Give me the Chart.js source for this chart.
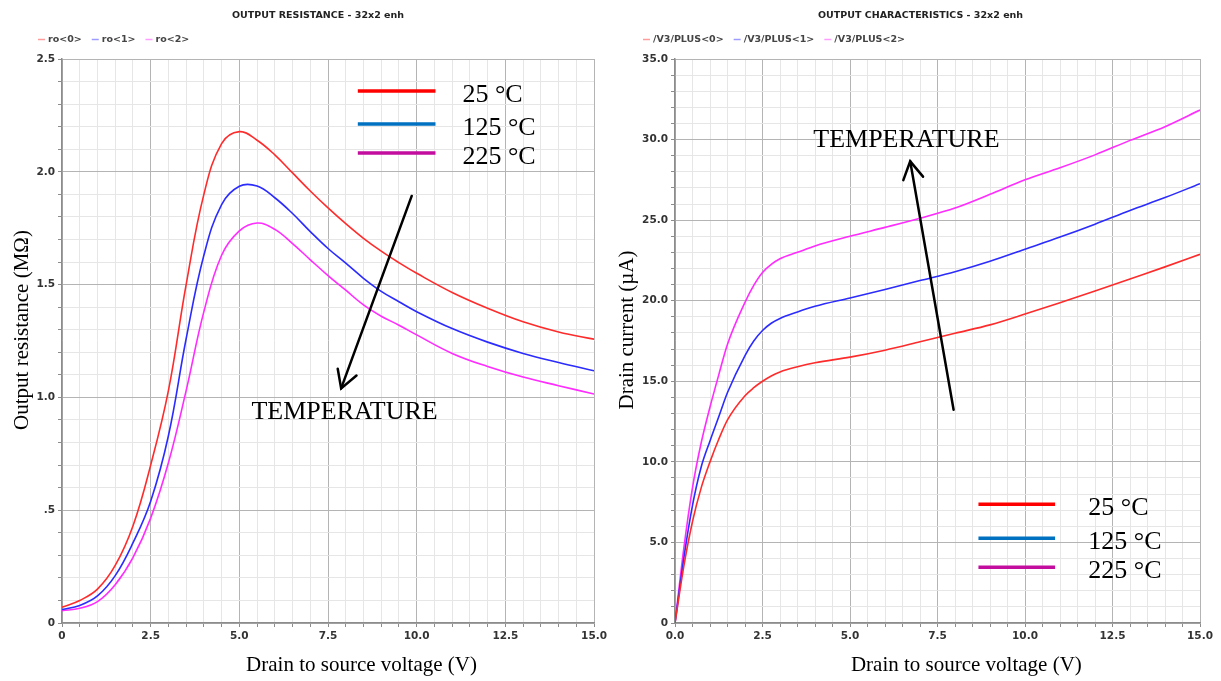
<!DOCTYPE html>
<html>
<head>
<meta charset="utf-8">
<script src="https://cdn.jsdelivr.net/npm/chart.js@4.4.1/dist/chart.umd.min.js"></script>
<style>
  html, body { margin: 0; padding: 0; background: #fff; }
  #page { position: relative; width: 1221px; height: 681px; overflow: hidden; background: #fff; }
  #res { position: absolute; left: 0; top: 0; }
  #out { position: absolute; left: 610px; top: 0; }
</style>
</head>
<body>
<div id="page">
  <canvas id="res" width="610" height="681"></canvas>
  <canvas id="out" width="611" height="681"></canvas>
</div>
<script>
// ---- Output resistance vs. V_DS (MΩ) ----
const vdsRes = [0, 0.5, 1, 1.5, 2, 2.5, 3, 3.5, 4, 4.5, 5, 5.5, 6, 6.5, 7, 7.5, 8, 8.5, 9, 9.5, 10, 11, 12, 13, 14, 15];
const ro25  = [0.07, 0.10, 0.15, 0.255, 0.43, 0.70, 1.03, 1.50, 1.90, 2.125, 2.178, 2.14, 2.075, 1.995, 1.915, 1.84, 1.77, 1.705, 1.648, 1.597, 1.55, 1.465, 1.395, 1.335, 1.29, 1.258];
const ro125 = [0.06, 0.078, 0.12, 0.21, 0.355, 0.54, 0.83, 1.26, 1.63, 1.855, 1.936, 1.937, 1.885, 1.815, 1.735, 1.66, 1.595, 1.528, 1.47, 1.424, 1.38, 1.305, 1.245, 1.195, 1.155, 1.118];
const ro225 = [0.055, 0.065, 0.095, 0.17, 0.29, 0.465, 0.71, 1.03, 1.38, 1.63, 1.738, 1.773, 1.745, 1.682, 1.61, 1.54, 1.475, 1.41, 1.36, 1.32, 1.277, 1.195, 1.137, 1.09, 1.052, 1.015];

// ---- Drain current vs. V_DS (µA) ----
const vdsOut = [0, 0.25, 0.5, 0.75, 1, 1.25, 1.5, 2, 2.25, 2.5, 2.75, 3, 3.5, 4, 5, 6, 7, 8, 9, 10, 11, 12, 13, 14, 15];
const id25  = [0, 3.5, 6.3, 8.4, 10.0, 11.4, 12.6, 14.1, 14.6, 15.0, 15.33, 15.58, 15.9, 16.15, 16.5, 16.93, 17.45, 17.98, 18.5, 19.17, 19.88, 20.6, 21.35, 22.1, 22.88];
const id125 = [0, 4.0, 7.3, 9.7, 11.3, 12.8, 14.3, 16.6, 17.5, 18.15, 18.6, 18.9, 19.3, 19.65, 20.17, 20.7, 21.25, 21.8, 22.45, 23.2, 23.95, 24.75, 25.6, 26.4, 27.26];
const id225 = [0, 4.6, 8.4, 11.2, 13.4, 15.4, 17.3, 19.9, 20.95, 21.75, 22.25, 22.6, 23.0, 23.4, 24.0, 24.55, 25.12, 25.75, 26.6, 27.5, 28.25, 29.05, 29.95, 30.8, 31.83];

// ---- tick labels ----
const resXTicks = ['0', '2.5', '5.0', '7.5', '10.0', '12.5', '15.0'];
const resYTicks = ['0', '.5', '1.0', '1.5', '2.0', '2.5'];
const outXTicks = ['0.0', '2.5', '5.0', '7.5', '10.0', '12.5', '15.0'];
const outYTicks = ['0', '5.0', '10.0', '15.0', '20.0', '25.0', '30.0', '35.0'];

// ---- names ----
const resNames = ['ro<0>', 'ro<1>', 'ro<2>'];
const outNames = ['/V3/PLUS<0>', '/V3/PLUS<1>', '/V3/PLUS<2>'];
const tempNames = ['25 °C', '125 °C', '225 °C'];

const traceColors = ['#ff2b2b', '#2b2bff', '#ff2bff'];
const paleColors = ['#ff9c9c', '#9c9cff', '#ff9cff'];
const keyColors = ['#ff0000', '#0070c0', '#c20d9e'];

const tickFont = { family: 'DejaVu Sans', size: 10.5, weight: 'bold' };

// linear axis with minor grid lines between labelled major ticks
function axis(min, max, minor, every, labels, fixSize) {
  return {
    type: 'linear', min, max,
    afterBuildTicks(scale) {
      const n = Math.round((max - min) / minor);
      scale.ticks = Array.from({ length: n + 1 }, (_, i) => ({ value: min + i * minor }));
    },
    afterFit: fixSize,
    ticks: {
      autoSkip: false, maxRotation: 0, padding: 3, font: tickFont, color: '#333',
      callback(v, i) { return i % every === 0 ? labels[i / every] : ''; }
    },
    grid: {
      color: c => (c.index % every === 0 ? '#b4b4b4' : '#e6e6e6'),
      lineWidth: 1, tickLength: 4, tickColor: '#8c8c8c'
    },
    border: { color: '#8c8c8c', width: 1.5 }
  };
}

function series(xs, ys, i, name) {
  return {
    label: name,
    data: xs.map((x, k) => ({ x, y: ys[k] })),
    borderColor: traceColors[i], borderWidth: 1.6, pointRadius: 0, fill: false
  };
}

// titles, header legend, axis titles, temperature key and arrows
const deco = {
  id: 'deco',
  afterDraw(chart, args, o) {
    const { ctx, chartArea: a, scales: { x, y } } = chart;
    ctx.save();
    // title
    ctx.font = 'bold 9.5px "DejaVu Sans"';
    ctx.fillStyle = '#222';
    ctx.textAlign = 'left';
    ctx.textBaseline = 'middle';
    ctx.fillText(o.title, o.titleX, 16);
    // header legend
    let lx = o.legendX;
    chart.data.datasets.forEach((ds, i) => {
      ctx.strokeStyle = paleColors[i];
      ctx.lineWidth = 1.5;
      ctx.beginPath(); ctx.moveTo(lx, 39.5); ctx.lineTo(lx + 7, 39.5); ctx.stroke();
      lx += 10;
      ctx.fillStyle = '#444';
      ctx.fillText(ds.label, lx, 40);
      lx += ctx.measureText(ds.label).width + 10;
    });
    // axis titles
    ctx.font = '21px "Liberation Serif"';
    ctx.fillStyle = '#000';
    ctx.textAlign = 'center';
    ctx.fillText(o.xTitle, a.left + a.width * o.xTitleFrac, 665);
    ctx.save();
    ctx.translate(o.yTitleX, o.yTitleY);
    ctx.rotate(-Math.PI / 2);
    ctx.fillText(o.yTitle, 0, 0);
    ctx.restore();
    // temperature key
    ctx.font = '26px "Liberation Serif"';
    ctx.textAlign = 'left';
    ctx.textBaseline = 'alphabetic';
    const k = o.key;
    const kx1 = x.getPixelForValue(k.x1), kx2 = x.getPixelForValue(k.x2), tx = x.getPixelForValue(k.tx);
    k.ys.forEach((v, i) => {
      const py = y.getPixelForValue(v);
      ctx.strokeStyle = keyColors[i];
      ctx.lineWidth = 3.5;
      ctx.beginPath(); ctx.moveTo(kx1, py); ctx.lineTo(kx2, py); ctx.stroke();
      ctx.fillText(tempNames[i], tx, py + 10.7);
    });
    // TEMPERATURE label
    ctx.fillText('TEMPERATURE', x.getPixelForValue(o.label.x), y.getPixelForValue(o.label.y));
    // arrow
    const ax0 = x.getPixelForValue(o.arrow.from[0]), ay0 = y.getPixelForValue(o.arrow.from[1]);
    const ax1 = x.getPixelForValue(o.arrow.to[0]), ay1 = y.getPixelForValue(o.arrow.to[1]);
    ctx.strokeStyle = '#000';
    ctx.lineWidth = 2.5;
    ctx.lineCap = 'round';
    ctx.beginPath(); ctx.moveTo(ax0, ay0); ctx.lineTo(ax1, ay1); ctx.stroke();
    const ang = Math.atan2(ay0 - ay1, ax0 - ax1);
    const hl = 20, spread = Math.PI / 6;
    ctx.beginPath();
    ctx.moveTo(ax1 + hl * Math.cos(ang - spread), ay1 + hl * Math.sin(ang - spread));
    ctx.lineTo(ax1, ay1);
    ctx.lineTo(ax1 + hl * Math.cos(ang + spread), ay1 + hl * Math.sin(ang + spread));
    ctx.stroke();
    ctx.restore();
  }
};

const common = {
  responsive: false, devicePixelRatio: 1, animation: false,
  events: []
};

new Chart(document.getElementById('res'), {
  type: 'line',
  data: { datasets: [series(vdsRes, ro25, 0, resNames[0]), series(vdsRes, ro125, 1, resNames[1]), series(vdsRes, ro225, 2, resNames[2])] },
  options: Object.assign({}, common, {
    layout: { padding: { left: 0, right: 15, top: 59, bottom: 0 } },
    elements: { line: { tension: 0.4 } },
    plugins: {
      legend: { display: false }, tooltip: { enabled: false },
      deco: {
        title: 'OUTPUT RESISTANCE - 32x2 enh', titleX: 232, legendX: 38,
        xTitle: 'Drain to source voltage (V)', xTitleFrac: 0.563,
        yTitle: 'Output resistance (MΩ)', yTitleX: 22, yTitleY: 330,
        key: { x1: 8.34, x2: 10.53, tx: 11.29, ys: [2.358, 2.212, 2.083] },
        label: { x: 5.34, y: 0.904 },
        arrow: { from: [9.86, 1.893], to: [7.87, 1.040] }
      }
    },
    scales: {
      x: axis(0, 15, 0.5, 5, resXTicks, s => { s.height = 58; }),
      y: axis(0, 2.5, 0.1, 5, resYTicks, s => { s.width = 62; })
    }
  }),
  plugins: [deco]
});

new Chart(document.getElementById('out'), {
  type: 'line',
  data: { datasets: [series(vdsOut, id25, 0, outNames[0]), series(vdsOut, id125, 1, outNames[1]), series(vdsOut, id225, 2, outNames[2])] },
  options: Object.assign({}, common, {
    layout: { padding: { left: 0, right: 21, top: 59, bottom: 0 } },
    elements: { line: { cubicInterpolationMode: 'monotone' } },
    plugins: {
      legend: { display: false }, tooltip: { enabled: false },
      deco: {
        title: 'OUTPUT CHARACTERISTICS - 32x2 enh', titleX: 208, legendX: 33,
        xTitle: 'Drain to source voltage (V)', xTitleFrac: 0.555,
        yTitle: 'Drain current (µA)', yTitleX: 17, yTitleY: 330,
        key: { x1: 8.67, x2: 10.86, tx: 11.81, ys: [7.37, 5.26, 3.46] },
        label: { x: 3.95, y: 29.55 },
        arrow: { from: [7.96, 13.23], to: [6.72, 28.65] }
      }
    },
    scales: {
      x: axis(0, 15, 0.5, 5, outXTicks, s => { s.height = 58; }),
      y: axis(0, 35, 1, 5, outYTicks, s => { s.width = 65; })
    }
  }),
  plugins: [deco]
});
</script>
</body>
</html>
